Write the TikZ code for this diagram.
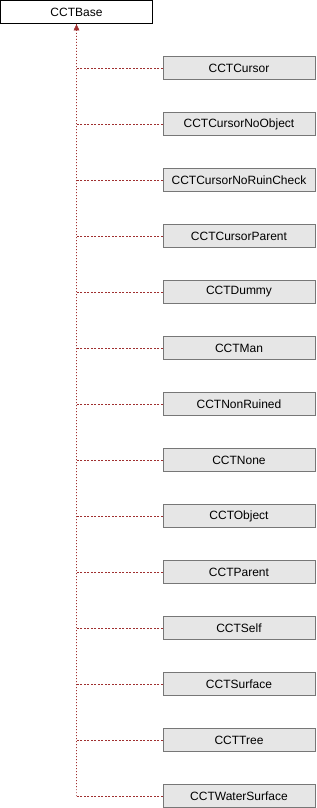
\documentclass[tikz,border=0pt]{standalone}
\usepackage{fontspec}
\setmainfont{Liberation Sans}
\definecolor{edgecol}{HTML}{A03030}
\definecolor{boxfill}{HTML}{E6E6E6}
\definecolor{boxdraw}{HTML}{777777}
\begin{document}
\begin{tikzpicture}[x=1pt,y=-1pt,
  basebox/.style={draw=black,fill=white,line width=0.8pt,minimum width=152pt,minimum height=23pt,inner sep=0pt,font=\fontsize{12}{14}\selectfont},
  childbox/.style={draw=boxdraw,fill=boxfill,line width=0.8pt,minimum width=152pt,minimum height=23pt,inner sep=0pt,font=\fontsize{12}{14}\selectfont},
  hedge/.style={draw=edgecol,line width=0.7pt,dash pattern=on 2pt off 1.5pt},
  vedge/.style={draw=edgecol,line width=0.7pt,dash pattern=on 1pt off 2pt}
]
\useasboundingbox (0,0) rectangle (316,808);
\node[basebox] (base) at (76.5,12) {CCTBase};
\foreach \name [count=\i from 0] in {CCTCursor,CCTCursorNoObject,CCTCursorNoRuinCheck,CCTCursorParent,CCTDummy,CCTMan,CCTNonRuined,CCTNone,CCTObject,CCTParent,CCTSelf,CCTSurface,CCTTree,CCTWaterSurface}{
  \node[childbox] (c\i) at (239,{68+56*\i}) {\name};
  \draw[hedge] (c\i.west) -- ++(-86,0) coordinate (j\i);
}
\draw[vedge] (j13) -- (base.south);
\draw[edgecol,fill=edgecol] (base.south) ++(0,0.8) -- ++(-2.6,5.5) -- ++(5.2,0) -- cycle;
\end{tikzpicture}
\end{document}
